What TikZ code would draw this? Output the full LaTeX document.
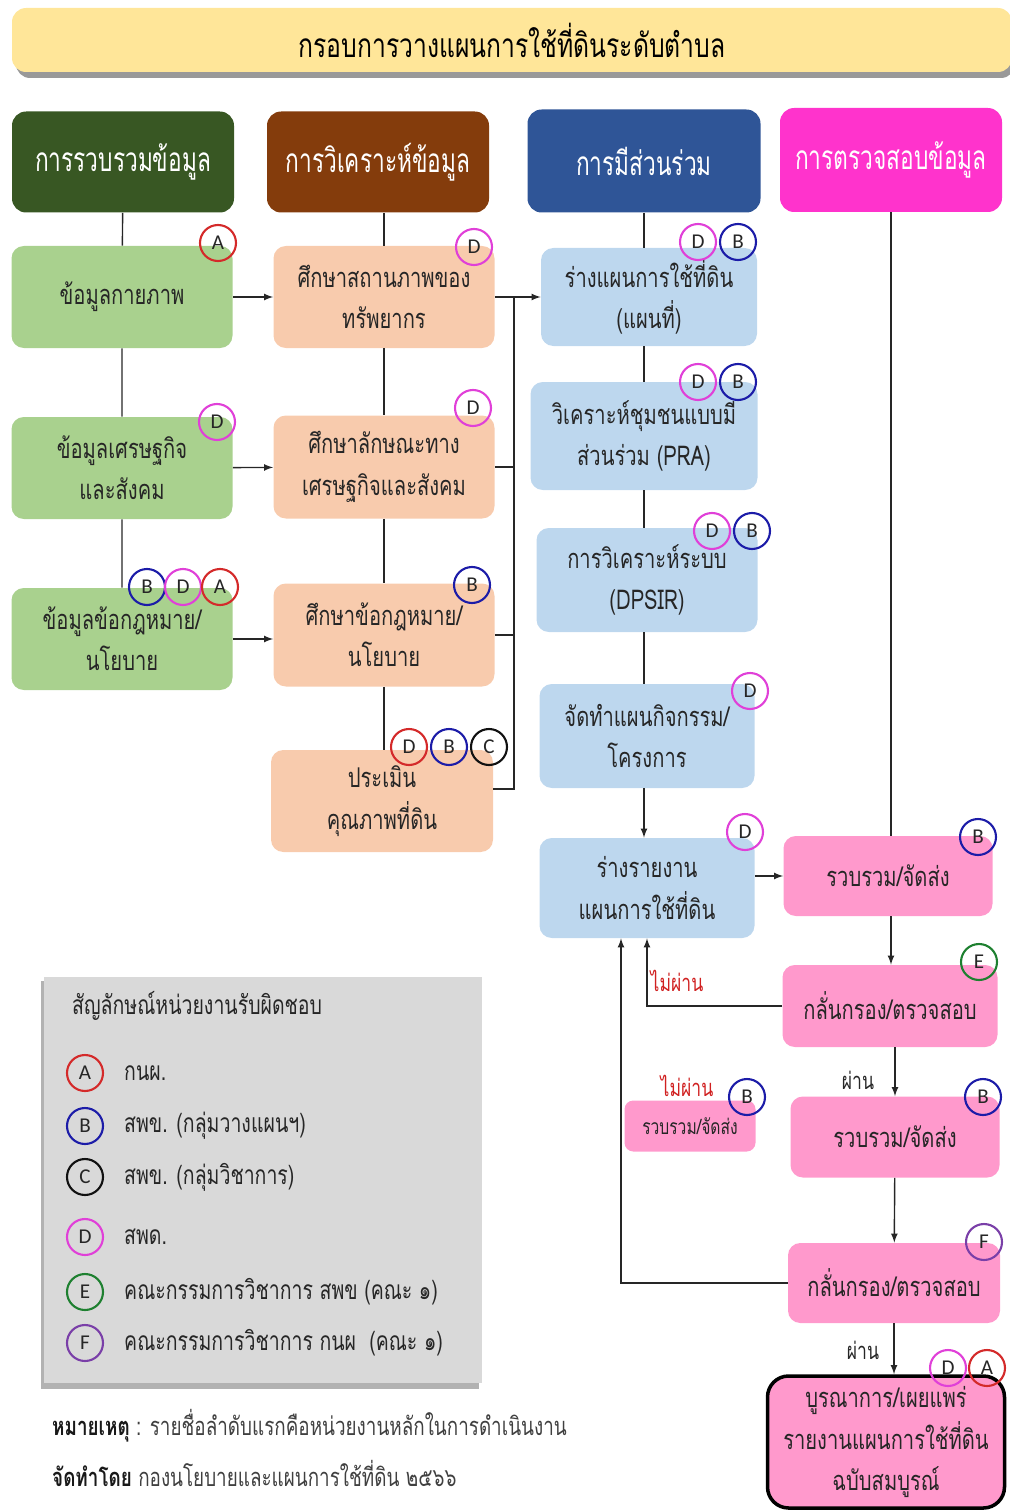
\documentclass[tikz,border=0pt]{standalone}
\usepackage{fontspec}
\setmainfont[Script=Thai,FakeStretch=0.74]{Loma}
\newfontfamily\hdrfont[Script=Thai,FakeStretch=0.68]{Loma}
\newfontfamily\badgefont{Carlito}
\usetikzlibrary{positioning,calc}
\tikzset{>=latex}

\definecolor{titlebg}{HTML}{FFE699}
\definecolor{hgreen}{HTML}{385723}
\definecolor{hbrown}{HTML}{843C0C}
\definecolor{hblue}{HTML}{2F5597}
\definecolor{hpink}{HTML}{FF33CC}
\definecolor{fgreen}{HTML}{A9D18E}
\definecolor{forange}{HTML}{F8CBAD}
\definecolor{fblue}{HTML}{BDD7EE}
\definecolor{fpink}{HTML}{FF99CC}
\definecolor{fgray}{HTML}{D9D9D9}
\definecolor{cA}{HTML}{D42A2A}
\definecolor{cB}{HTML}{1C1CA8}
\definecolor{cC}{HTML}{111111}
\definecolor{cD}{HTML}{E040D8}
\definecolor{cE}{HTML}{1E8030}
\definecolor{cF}{HTML}{7A3FA8}
\definecolor{nopass}{HTML}{D02020}

\tikzset{
  sz/.style 2 args={minimum width=#1*0.02cm, minimum height=#2*0.02cm},
  hdr/.style={rounded corners=8pt, text=white, align=center, inner sep=0pt,
    font=\hdrfont\fontsize{19}{22}\selectfont},
  box/.style={rounded corners=7pt, align=center, inner sep=0pt, text=black!85,
    font=\fontsize{15.5}{23.5}\selectfont},
  badge/.style={circle, draw=#1, line width=1.2pt, minimum size=0.72cm,
    inner sep=0pt, text=black!85, font=\badgefont\fontsize{12}{12}\selectfont},
  link/.style={line width=0.8pt, black!85},
  flow/.style={->, line width=0.8pt, black!85},
  passlbl/.style={font=\fontsize{13.5}{15}\selectfont, text=black!85},
  faillbl/.style={font=\fontsize{13.5}{15}\selectfont, text=nopass},
}

\begin{document}
\begin{tikzpicture}[x=0.02cm, y=-0.02cm]
  \useasboundingbox (0,0) rectangle (1009,1510);

  % Title
  \fill[black!40, rounded corners=8pt] (16,14) rectangle (1015,78);
  \node[fill=titlebg, rounded corners=8pt, sz={1000}{64}, inner sep=0pt,
    font=\fontsize{19}{20}\selectfont] (title) at (512,40) {กรอบการวางแผนการใช้ที่ดินระดับตำบล};

  % Headers
  \node[hdr, fill=hgreen, sz={222}{101}] (colA) at (123,162) {การรวบรวมข้อมูล};
  \node[hdr, fill=hbrown, sz={222}{101}] (colB) at (378,162) {การวิเคราะห์ข้อมูล};
  \node[hdr, fill=hblue,  sz={233}{103}] (colC) at (644,161) {การมีส่วนร่วม};
  \node[hdr, fill=hpink,  sz={222}{104}] (colD) at (891,160) {การตรวจสอบข้อมูล};

  % Data collection
  \node[box, fill=fgreen, sz={221}{102}] (phys) at (122,297) {ข้อมูลกายภาพ};
  \node[box, fill=fgreen, sz={221}{102}] (econ) at (122,468) {ข้อมูลเศรษฐกิจ\\และสังคม};
  \node[box, fill=fgreen, sz={221}{102}] (law)  at (122,639) {ข้อมูลข้อกฎหมาย/\\นโยบาย};

  % Analysis
  \node[box, fill=forange, sz={221}{102}] (res)   at (384,297) {ศึกษาสถานภาพของ\\ทรัพยากร};
  \node[box, fill=forange, sz={221}{103}] (soc)   at (384,467) {ศึกษาลักษณะทาง\\เศรษฐกิจและสังคม};
  \node[box, fill=forange, sz={221}{103}] (pol)   at (384,635) {ศึกษาข้อกฎหมาย/\\นโยบาย};
  \node[box, fill=forange, sz={222}{102}] (soil)  at (382,801) {ประเมิน\\คุณภาพที่ดิน};

  % Participation
  \node[box, fill=fblue, sz={216}{98}]  (draftmap) at (649,297) {ร่างแผนการใช้ที่ดิน\\(แผนที่)};
  \node[box, fill=fblue, sz={227}{108}] (pra)      at (644,436) {วิเคราะห์ชุมชนแบบมี\\ส่วนร่วม (PRA)};
  \node[box, fill=fblue, sz={221}{104}] (dpsir)    at (647,580) {การวิเคราะห์ระบบ\\(DPSIR)};
  \node[box, fill=fblue, sz={215}{104}] (plan)     at (647,736) {จัดทำแผนกิจกรรม/\\โครงการ};
  \node[box, fill=fblue, sz={215}{100}] (report)   at (647,888) {ร่างรายงาน\\แผนการใช้ที่ดิน};

  % Checking
  \node[box, fill=fpink, sz={209}{80}] (send1)  at (888,876)  {รวบรวม/จัดส่ง};
  \node[box, fill=fpink, sz={215}{82}] (check1) at (890,1006) {กลั่นกรอง/ตรวจสอบ};
  \node[box, fill=fpink, sz={209}{81}] (send2)  at (895,1137) {รวบรวม/จัดส่ง};
  \node[box, fill=fpink, sz={131}{51}, rounded corners=5pt,
    font=\fontsize{12}{13}\selectfont] (sendback) at (690,1126) {รวบรวม/จัดส่ง};
  \node[box, fill=fpink, sz={212}{80}] (check2) at (894,1283) {กลั่นกรอง/ตรวจสอบ};
  \node[box, fill=fpink, draw=black, line width=2pt, rounded corners=12pt, sz={237}{132}]
    (final) at (886,1442) {บูรณาการ/เผยแพร่\\รายงานแผนการใช้ที่ดิน\\ฉบับสมบูรณ์};

  % Connectors
  \draw[link] (colA) -- (phys) -- (econ) -- (law);
  \draw[link] (colB.south -| res.north) -- (res) -- (soc) -- (pol) -- (pol.south |- soil.north);
  \draw[link] (colC.south) -- (colC.south |- draftmap.north);
  \draw[link] (colC.south |- draftmap.south) -- (colC.south |- pra.north);
  \draw[link] (colC.south |- pra.south) -- (colC.south |- dpsir.north);
  \draw[link] (colC.south |- dpsir.south) -- (colC.south |- plan.north);
  \draw[flow] (colC.south |- plan.south) -- (colC.south |- report.north);
  \draw[link] (colD.south) -- (colD.south |- send1.north);

  \draw[flow] (phys) -- (res);
  \draw[flow] (econ) -- (soc);
  \draw[flow] (law.east) -- (law.east -| pol.west);

  \coordinate (brk) at (514,297);
  \draw[flow] (res) -- (draftmap);
  \draw[link] (soc.east) -- (soc.east -| brk);
  \draw[link] (pol.east) -- (pol.east -| brk);
  \draw[link] ([yshift=0.24cm]soil.east) -- ([yshift=0.24cm]soil.east -| brk) -- (brk);

  \draw[flow] (report.east |- send1.west) -- (send1.west);
  \draw[flow] (send1.south -| colD.south) -- (check1.north -| colD.south);
  \draw[flow] (check1.south -| send2) -- (send2);
  \draw[flow] (send2) -- (check2);
  \draw[flow] (check2) -- (check2 |- final.north);
  \draw[flow] (check1.west) -| (report.south);
  \draw[flow] (check2.west) -| ([xshift=-0.52cm]report.south);

  % Pass / fail labels
  \node[faillbl] (fail1) at (677,981)  {ไม่ผ่าน};
  \node[faillbl] (fail2) at (687,1086) {ไม่ผ่าน};
  \node[passlbl] (pass1) at (858,1080) {ผ่าน};
  \node[passlbl] (pass2) at (863,1350) {ผ่าน};

  % Responsible units
  \node[badge=cA] (physA) at (218,243) {A};
  \node[badge=cD] (econD) at (217,422) {D};
  \node[badge=cB] (lawB)  at (147,587) {B};
  \node[badge=cD] (lawD)  at (183,587) {D};
  \node[badge=cA] (lawA)  at (220,587) {A};
  \node[badge=cD] (resD)  at (474,247) {D};
  \node[badge=cD] (socD)  at (473,408) {D};
  \node[badge=cB] (polB)  at (472,585) {B};
  \node[badge=cA] (soilD) at (409,747) {D};
  \node[badge=cB] (soilB) at (449,747) {B};
  \node[badge=cC] (soilC) at (489,747) {C};
  \node[badge=cD] (mapD)  at (698,242) {D};
  \node[badge=cB] (mapB)  at (738,242) {B};
  \node[badge=cD] (praD)  at (698,382) {D};
  \node[badge=cB] (praB)  at (738,382) {B};
  \node[badge=cD] (dpsD)  at (712,531) {D};
  \node[badge=cB] (dpsB)  at (752,531) {B};
  \node[badge=cD] (planD) at (750,691) {D};
  \node[badge=cD] (repD)  at (745,832) {D};
  \node[badge=cB] (s1B)   at (978,837) {B};
  \node[badge=cE] (c1E)   at (979,962) {E};
  \node[badge=cB] (s2B)   at (983,1097) {B};
  \node[badge=cB] (sbB)   at (747,1097) {B};
  \node[badge=cF] (c2F)   at (984,1242) {F};
  \node[badge=cD] (finD)  at (948,1368) {D};
  \node[badge=cA] (finA)  at (987,1368) {A};

  % Legend
  \fill[black!30] (41,981) rectangle (479,1389);
  \node[fill=fgray, sz={438}{406}, inner sep=0pt] (legend) at (263,1180) {};
  \node[anchor=west, font=\fontsize{15}{16}\selectfont, text=black!85] (legtitle) at (66,1006)
    {สัญลักษณ์หน่วยงานรับผิดชอบ};
  \foreach \l/\c/\y/\t in {A/cA/1073/กนผ., B/cB/1126/สพข. (กลุ่มวางแผนฯ),
      C/cC/1177/สพข. (กลุ่มวิชาการ), D/cD/1237/สพด.,
      E/cE/1292/คณะกรรมการวิชาการ สพข (คณะ ๑), F/cF/1343/คณะกรรมการวิชาการ กนผ\ \ (คณะ ๑)}{
    \node[badge=\c] (key\l) at (85,\y) {\l};
    \node[anchor=west, font=\fontsize{15}{16}\selectfont, text=black!85] (keytxt\l) at (118,\y) {\t};
  }

  % Notes
  \node[anchor=west, font=\fontsize{14.5}{15}\selectfont, text=black!75] (note) at (46,1426)
    {\textbf{\color{black!90}หมายเหตุ} : รายชื่อลำดับแรกคือหน่วยงานหลักในการดำเนินงาน};
  \node[anchor=west, font=\fontsize{14.5}{15}\selectfont, text=black!75] (madeby) at (46,1473)
    {\textbf{\color{black!90}จัดทำโดย} กองนโยบายและแผนการใช้ที่ดิน ๒๕๖๖};
\end{tikzpicture}
\end{document}
